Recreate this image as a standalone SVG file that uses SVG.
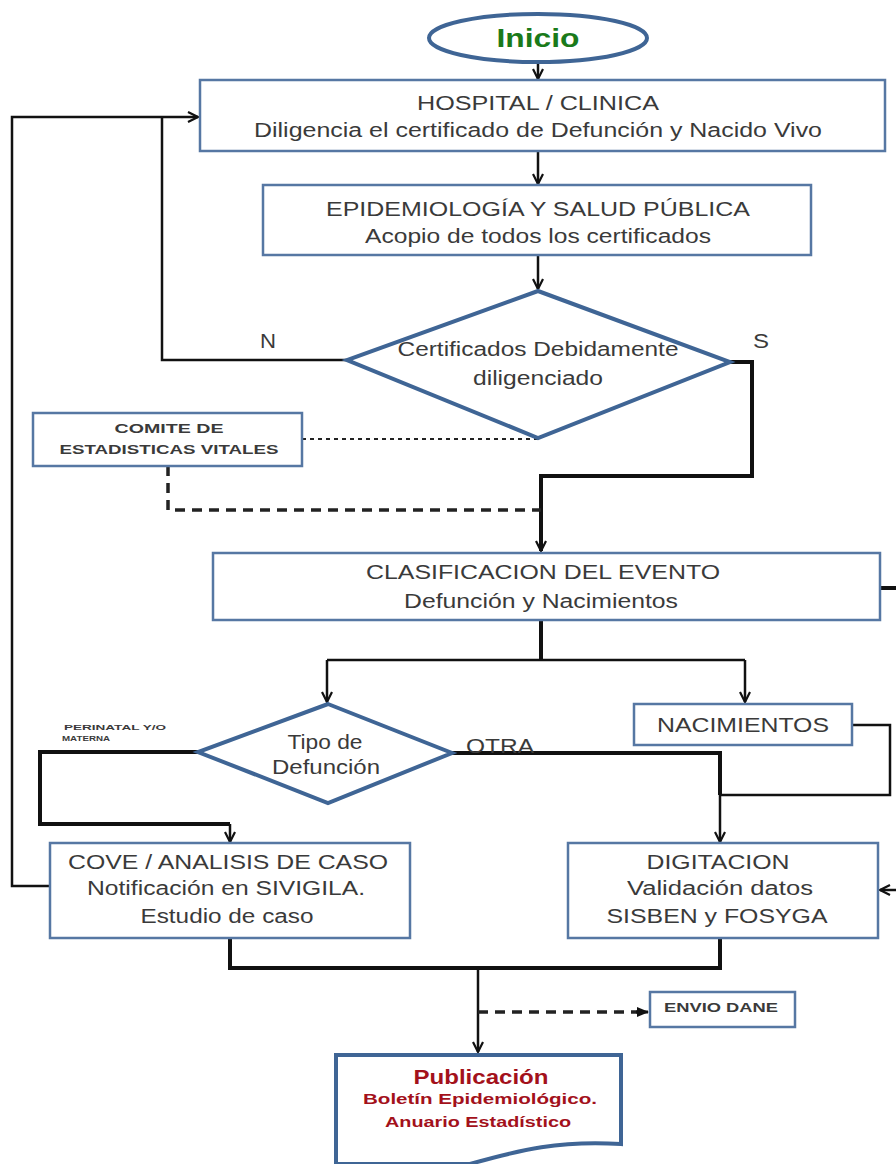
<svg xmlns="http://www.w3.org/2000/svg" width="896" height="1164" viewBox="0 0 896 1164">
  <style>
    .box { fill: #ffffff; stroke: #5677a3; stroke-width: 2.5; }
    .dia { fill: #ffffff; stroke: #3f6595; stroke-width: 4; }
    .t { font-family: "Liberation Sans", Arial, sans-serif; fill: #3a3a3a; text-anchor: middle; }
    .big { font-size: 20px; }
    .sm { font-size: 13px; font-weight: bold; }
    .line { fill: none; stroke: #111111; stroke-width: 2.5; }
    .thick { fill: none; stroke: #111111; stroke-width: 4; }
    .dot { fill: none; stroke: #222222; stroke-width: 2; stroke-dasharray: 4 4; }
    .dash { fill: none; stroke: #222222; stroke-width: 3.5; stroke-dasharray: 10 7; }
    .red { font-family: "Liberation Sans", Arial, sans-serif; fill: #a3111b; font-weight: bold; text-anchor: middle; }
  </style>
  <defs>
    <marker id="arr" viewBox="0 0 12 12" refX="11" refY="6" markerWidth="12" markerHeight="12" markerUnits="userSpaceOnUse" orient="auto">
      <path d="M1,1 L11,6 L1,11" fill="none" stroke="#111111" stroke-width="2.2"/>
    </marker>
    <marker id="solid" viewBox="0 0 12 12" refX="11" refY="6" markerWidth="12" markerHeight="12" markerUnits="userSpaceOnUse" orient="auto">
      <path d="M0,1 L12,6 L0,11 Z" fill="#111111"/>
    </marker>
  </defs>

  <!-- connectors -->
  <g id="connectors">
    <path class="line" d="M538,62 V79" marker-end="url(#arr)"/>
    <path class="line" d="M538,151 V184" marker-end="url(#arr)"/>
    <path class="line" d="M538,255 V289" marker-end="url(#arr)"/>
    <!-- N branch back to hospital -->
    <path class="line" d="M347,360 H162 V117"/>
    <path class="line" d="M50,886 H12 V117 H198" marker-end="url(#arr)"/>
    <!-- S branch down to classification -->
    <path class="thick" d="M730,362 H752 V476 H541 V551" marker-end="url(#arr)"/>
    <!-- comite links -->
    <path class="dot" d="M302,439 H538 V438"/>
    <path class="dash" d="M168,466 V510 H541"/>
    <!-- split after classification -->
    <path class="thick" d="M541,620 V660"/>
    <path class="line" d="M327,660 H745"/>
    <path class="line" d="M327,660 V702" marker-end="url(#arr)"/>
    <path class="line" d="M745,660 V702" marker-end="url(#arr)"/>
    <path class="thick" d="M880,588 H896"/>
    <!-- nacimientos to digitacion -->
    <path class="line" d="M852,725 H890 V795 H720"/>
    <!-- tipo de defuncion branches -->
    <path class="thick" d="M198,752 H40 V824 H230"/>
    <path class="line" d="M230,824 V842" marker-end="url(#arr)"/>
    <path class="thick" d="M452,753 H720 V795"/>
    <path class="line" d="M720,795 V842" marker-end="url(#arr)"/>
    <path class="line" d="M896,890 H880" marker-end="url(#arr)"/>
    <!-- join to publication -->
    <path class="thick" d="M230,938 V968 H720 V938"/>
    <path class="line" d="M478,968 V1052" marker-end="url(#arr)"/>
    <path class="dash" d="M478,1012 H640"/>
    <path d="M636,1012 H648" fill="none" stroke="#111" stroke-width="3" marker-end="url(#solid)"/>
  </g>

  <g id="inicio">
    <ellipse cx="538" cy="38" rx="109" ry="24" fill="#ffffff" stroke="#3f6595" stroke-width="4"/>
    <text class="t" x="538" y="47" font-size="25" font-weight="bold" fill="#1a7a1a" style="fill:#1a7a1a" textLength="83" lengthAdjust="spacingAndGlyphs">Inicio</text>
  </g>

  <g id="hospital">
    <rect class="box" x="200" y="80" width="685" height="71"/>
    <text class="t big" x="538" y="110" textLength="242" lengthAdjust="spacingAndGlyphs">HOSPITAL / CLINICA</text>
    <text class="t big" x="538" y="137" textLength="568" lengthAdjust="spacingAndGlyphs">Diligencia el certificado de Defunción y Nacido Vivo</text>
  </g>

  <g id="epidemiologia">
    <rect class="box" x="263" y="185" width="548" height="70"/>
    <text class="t big" x="538" y="216" textLength="424" lengthAdjust="spacingAndGlyphs">EPIDEMIOLOGÍA Y SALUD PÚBLICA</text>
    <text class="t big" x="538" y="243" textLength="346" lengthAdjust="spacingAndGlyphs">Acopio de todos los certificados</text>
  </g>

  <g id="certificados">
    <polygon class="dia" points="538,291 730,362 538,438 347,360"/>
    <text class="t big" x="538" y="356" textLength="281" lengthAdjust="spacingAndGlyphs">Certificados Debidamente</text>
    <text class="t big" x="538" y="385" textLength="130" lengthAdjust="spacingAndGlyphs">diligenciado</text>
  </g>
  <text class="t big" x="268" y="348" textLength="16" lengthAdjust="spacingAndGlyphs">N</text>
  <text class="t big" x="761" y="348" textLength="16" lengthAdjust="spacingAndGlyphs">S</text>

  <g id="comite">
    <rect class="box" x="33" y="413" width="269" height="53"/>
    <text class="t sm" x="169" y="433" textLength="109" lengthAdjust="spacingAndGlyphs">COMITE DE</text>
    <text class="t sm" x="169" y="454" textLength="219" lengthAdjust="spacingAndGlyphs">ESTADISTICAS VITALES</text>
  </g>

  <g id="clasificacion">
    <rect class="box" x="213" y="553" width="667" height="67"/>
    <text class="t big" x="543" y="579" textLength="354" lengthAdjust="spacingAndGlyphs">CLASIFICACION DEL EVENTO</text>
    <text class="t big" x="541" y="608" textLength="274" lengthAdjust="spacingAndGlyphs">Defunción y Nacimientos</text>
  </g>

  <g id="tipo">
    <polygon class="dia" points="328,704 452,753 328,803 198,752"/>
    <text class="t big" x="325" y="749" textLength="75" lengthAdjust="spacingAndGlyphs">Tipo de</text>
    <text class="t big" x="326" y="774" textLength="108" lengthAdjust="spacingAndGlyphs">Defunción</text>
  </g>
  <text class="t" x="115" y="730" font-size="8" font-weight="bold" textLength="102" lengthAdjust="spacingAndGlyphs">PERINATAL Y/O</text>
  <text class="t" x="86" y="741" font-size="8" font-weight="bold" textLength="48" lengthAdjust="spacingAndGlyphs">MATERNA</text>
  <text class="t big" x="500" y="753" textLength="68" lengthAdjust="spacingAndGlyphs">OTRA</text>

  <g id="nacimientos">
    <rect class="box" x="634" y="704" width="218" height="41"/>
    <text class="t big" x="743" y="732" textLength="172" lengthAdjust="spacingAndGlyphs">NACIMIENTOS</text>
  </g>

  <g id="cove">
    <rect class="box" x="50" y="843" width="360" height="95"/>
    <text class="t big" x="228" y="869" textLength="320" lengthAdjust="spacingAndGlyphs">COVE / ANALISIS DE CASO</text>
    <text class="t big" x="226" y="895" textLength="278" lengthAdjust="spacingAndGlyphs">Notificación en SIVIGILA.</text>
    <text class="t big" x="227" y="923" textLength="173" lengthAdjust="spacingAndGlyphs">Estudio de caso</text>
  </g>

  <g id="digitacion">
    <rect class="box" x="568" y="843" width="310" height="95"/>
    <text class="t big" x="718" y="869" textLength="143" lengthAdjust="spacingAndGlyphs">DIGITACION</text>
    <text class="t big" x="720" y="895" textLength="186" lengthAdjust="spacingAndGlyphs">Validación datos</text>
    <text class="t big" x="717" y="923" textLength="221" lengthAdjust="spacingAndGlyphs">SISBEN y FOSYGA</text>
  </g>

  <g id="envio">
    <rect class="box" x="650" y="992" width="145" height="35"/>
    <text class="t sm" x="721" y="1012" textLength="114" lengthAdjust="spacingAndGlyphs">ENVIO DANE</text>
  </g>

  <g id="publicacion">
    <path d="M336,1055 H621 V1144 C560,1140 520,1150 470,1164 H336 Z" fill="#ffffff" stroke="#3f6595" stroke-width="4"/>
    <text class="red" x="481" y="1084" font-size="20" textLength="135" lengthAdjust="spacingAndGlyphs">Publicación</text>
    <text class="red" x="480" y="1104" font-size="15" textLength="234" lengthAdjust="spacingAndGlyphs">Boletín Epidemiológico.</text>
    <text class="red" x="478" y="1127" font-size="15" textLength="186" lengthAdjust="spacingAndGlyphs">Anuario Estadístico</text>
  </g>
</svg>
